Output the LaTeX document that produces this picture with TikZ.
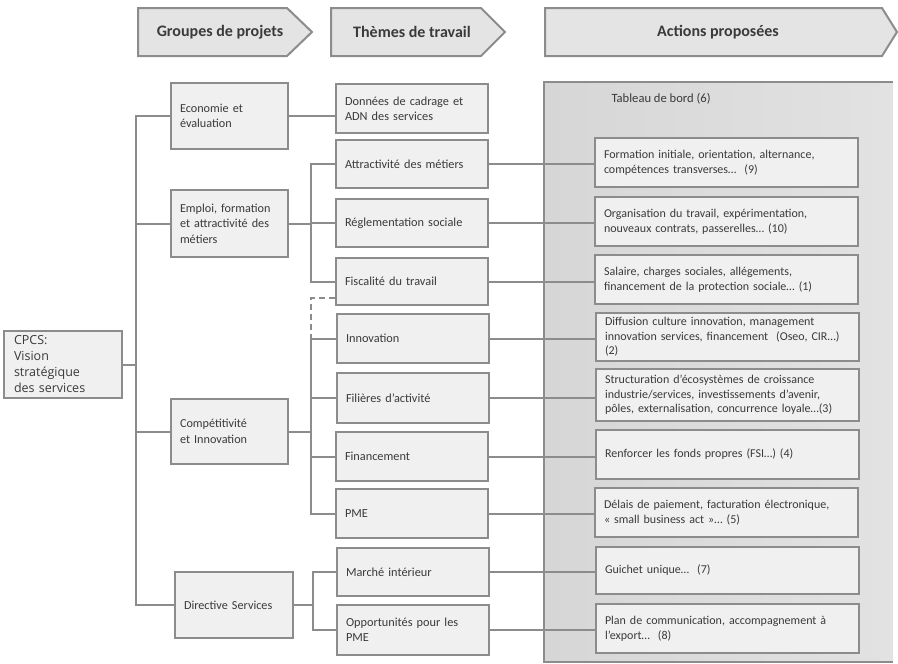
\documentclass[tikz,border=0pt]{standalone}
\usepackage{fontspec}
\setmainfont{Carlito}
\newfontfamily\widefont{Open Sans}
\definecolor{linec}{HTML}{8C8C8C}
\definecolor{boxf}{HTML}{F0F0F0}
\definecolor{hdrf}{HTML}{E4E4E4}
\definecolor{txt}{HTML}{3A3A3A}
\definecolor{panL}{HTML}{D6D6D6}
\definecolor{panR}{HTML}{E2E2E2}
\tikzset{
  bx/.style={draw=linec, fill=boxf, line width=2pt, inner xsep=9pt, inner ysep=2pt,
    align=left, anchor=north west, text=txt},
  grpbox/.style={bx, font=\fontsize{12.2}{15.5}\selectfont},
  thmbox/.style={bx, font=\fontsize{12.3}{15}\selectfont, minimum width=152pt, text width=134pt},
  actbox/.style={bx, font=\fontsize{12}{15}\selectfont, minimum width=263pt, text width=245pt},
  hdr/.style={draw=linec, fill=hdrf, line width=2pt, line join=miter},
  hdrtext/.style={font=\fontsize{16}{18}\bfseries\selectfont, text=txt},
  conn/.style={draw=linec, line width=2pt},
}
\begin{document}
\begin{tikzpicture}[x=1pt,y=-1pt]
\useasboundingbox (0,0) rectangle (898,664);
% headers
\draw[hdr] (138,8) -- (287,8) -- (312,32) -- (287,56) -- (138,56) -- cycle;
\node[hdrtext] (h1) at (220,32) {Groupes de projets};
\draw[hdr] (331,8) -- (481,8) -- (505,32) -- (481,56) -- (331,56) -- cycle;
\node[hdrtext] (h2) at (412,32) {Thèmes de travail};
\draw[hdr] (545,8) -- (882,8) -- (897,32) -- (882,56) -- (545,56) -- cycle;
\node[hdrtext] (h3) at (718,32) {Actions proposées};
% panel
\fill[left color=panL, right color=panR] (544,82) rectangle (893,662);
\draw[draw=linec, line width=2pt] (893,82) -- (544,82) -- (544,662) -- (893,662);
\node[anchor=west, text=txt, font=\fontsize{12.6}{14}\selectfont] (tdb) at (608,99) {Tableau de bord (6)};
% root
\node[bx, font=\widefont\fontsize{12.5}{16}\selectfont, inner xsep=10pt, minimum width=118pt, text width=98pt, minimum height=67pt] (cpcs) at (3,330) {CPCS:\\Vision\\stratégique\\des services};
% groups
\node[grpbox, minimum width=117pt, text width=99pt, minimum height=66pt] (eco) at (170,82) {Economie et\\évaluation};
\node[grpbox, minimum width=117pt, text width=99pt, minimum height=67pt] (emp) at (170,189) {Emploi, formation\\et attractivité des\\métiers};
\node[grpbox, minimum width=117pt, text width=99pt, minimum height=65pt] (comp) at (170,398) {Compétitivité\\et Innovation};
\node[grpbox, minimum width=118pt, text width=100pt, minimum height=66pt] (dir) at (174,571) {Directive Services};
% themes
\node[thmbox, minimum height=49pt] (don) at (335,83) {Données de cadrage et\\ADN des services};
\node[thmbox, minimum height=48pt] (att) at (335,139) {Attractivité des métiers};
\node[thmbox, minimum height=48pt] (reg) at (335,198) {Réglementation sociale};
\node[thmbox, minimum height=47pt] (fis) at (335,257) {Fiscalité du travail};
\node[thmbox, minimum height=49pt] (inn) at (336,313) {Innovation};
\node[thmbox, minimum height=50pt] (fil) at (336,372) {Filières d’activité};
\node[thmbox, minimum height=49pt] (fin) at (335,431) {Financement};
\node[thmbox, minimum height=49pt] (pme) at (335,488) {PME};
\node[thmbox, minimum height=48pt] (mar) at (336,547) {Marché intérieur};
\node[thmbox, minimum height=50pt] (opp) at (336,604) {Opportunités pour les\\PME};
% actions
\node[actbox, minimum height=49pt] (a1) at (594,137) {Formation initiale, orientation, alternance,\\compétences transverses…\ \ (9)};
\node[actbox, minimum height=49pt] (a2) at (594,196) {Organisation du travail, expérimentation,\\nouveaux contrats, passerelles… (10)};
\node[actbox, minimum height=49pt] (a3) at (594,254) {Salaire, charges sociales, allégements,\\financement de la protection sociale…\ (1)};
\node[actbox, minimum height=48pt, font=\fontsize{12}{14.5}\selectfont] (a4) at (595,312) {Diffusion culture innovation, management\\innovation services, financement\ \ (Oseo, CIR…)\\(2)};
\node[actbox, minimum height=52pt, font=\fontsize{12}{14.5}\selectfont] (a5) at (595,368) {Structuration d’écosystèmes de croissance\\industrie/services, investissements d’avenir,\\pôles, externalisation, concurrence loyale…(3)};
\node[actbox, minimum height=49pt] (a6) at (595,429) {Renforcer les fonds propres (FSI…)\ (4)};
\node[actbox, minimum height=49pt] (a7) at (594,487) {Délais de paiement, facturation électronique,\\«\ small business act\ »…\ (5)};
\node[actbox, minimum height=47pt] (a8) at (595,546) {Guichet unique…\ \ (7)};
\node[actbox, minimum height=49pt] (a9) at (595,603) {Plan de communication, accompagnement à\\l’export…\ \ (8)};
% connector helpers
\coordinate (trunk) at (136,0);
\coordinate (b1) at (311,0);
\coordinate (b2) at (313,0);
% level 1
\draw[conn] (eco.west) -- (eco.west -| trunk) -- (dir.west -| trunk) -- (dir.west);
\draw[conn] (emp.west -| trunk) -- (emp.west);
\draw[conn] (comp.west -| trunk) -- (comp.west);
\draw[conn] (cpcs.east) -- (cpcs.east -| trunk);
% level 2
\draw[conn] (eco.east) -- (eco.east -| don.west);
\draw[conn] (emp.east) -- (emp.east -| b1);
\draw[conn] (att.west) -- (att.west -| b1) -- (fis.west -| b1) -- (fis.west);
\draw[conn] (reg.west -| b1) -- (reg.west);
\draw[conn, dashed, dash pattern=on 6pt off 4pt] ([yshift=-16pt]fis.west) -| (inn.west -| b1);
\draw[conn] (comp.east) -- (comp.east -| b1);
\draw[conn] (inn.west) -- (inn.west -| b1) -- (pme.west -| b1) -- (pme.west);
\draw[conn] (fil.west -| b1) -- (fil.west);
\draw[conn] (fin.west -| b1) -- (fin.west);
\draw[conn] (dir.east) -- (dir.east -| b2);
\draw[conn] (mar.west) -- (mar.west -| b2) -- (opp.west -| b2) -- (opp.west);
% level 3
\draw[conn] (att.east) -- (att.east -| a1.west);
\draw[conn] (reg.east) -- (reg.east -| a2.west);
\draw[conn] (fis.east) -- (fis.east -| a3.west);
\draw[conn] (inn.east) -- (inn.east -| a4.west);
\draw[conn] (fil.east) -- (fil.east -| a5.west);
\draw[conn] (fin.east) -- (fin.east -| a6.west);
\draw[conn] (pme.east) -- (pme.east -| a7.west);
\draw[conn] (mar.east) -- (mar.east -| a8.west);
\draw[conn] (opp.east) -- (opp.east -| a9.west);
\end{tikzpicture}
\end{document}
